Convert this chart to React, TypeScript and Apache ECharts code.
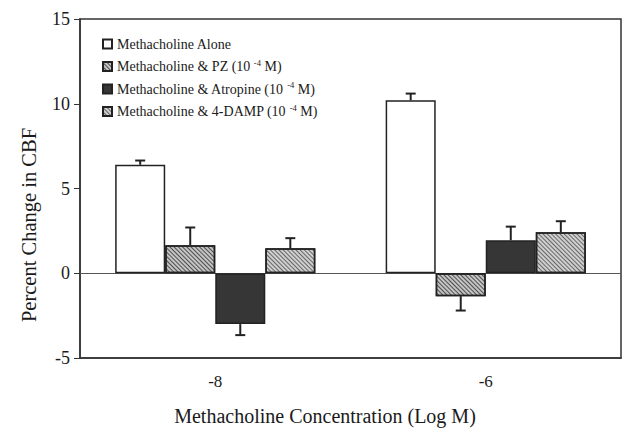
import React, { useEffect, useRef } from "react";
import * as echarts from "echarts";

const categories = ["-8", "-6"];
const seriesNames = [
  "Methacholine Alone",
  "Methacholine & PZ (10-4 M)",
  "Methacholine & Atropine (10-4 M)",
  "Methacholine & 4-DAMP (10-4 M)",
];
const alone = [6.4, 10.2];
const aloneErr = [0.25, 0.4];
const pz = [1.65, -1.35];
const pzErr = [1.05, 0.85];
const atropine = [-3.0, 1.95];
const atropineErr = [0.65, 0.8];
const damp = [1.47, 2.42];
const dampErr = [0.6, 0.65];
const yTicks = [-5, 0, 5, 10, 15];

const FONT = "'Liberation Serif', 'Times New Roman', serif";

export default function App() {
  const ref = useRef<HTMLDivElement>(null);
  useEffect(() => {
    if (!ref.current) return;
    const chart = echarts.init(ref.current, undefined, { renderer: "svg" });
    const values = [alone, pz, atropine, damp];
    const errs = [aloneErr, pzErr, atropineErr, dampErr];
    const styles: any[] = [
      { color: "#ffffff", borderColor: "#222", borderWidth: 1.5 },
      {
        color: "#c4c4c4",
        borderColor: "#222",
        borderWidth: 1.5,
        decal: {
          symbol: "rect",
          symbolSize: 1,
          color: "rgba(40,40,40,0.75)",
          dashArrayX: [1, 0],
          dashArrayY: [1, 2],
          rotation: Math.PI / 4,
        },
      },
      { color: "#363636", borderColor: "#222", borderWidth: 1.5 },
      {
        color: "#cfcfcf",
        borderColor: "#222",
        borderWidth: 1.5,
        decal: {
          symbol: "rect",
          symbolSize: 1,
          color: "rgba(60,60,60,0.7)",
          dashArrayX: [1, 0],
          dashArrayY: [1, 2],
          rotation: Math.PI / 4,
        },
      },
    ];
    const errData: any[] = [];
    values.forEach((vals, s) => {
      vals.forEach((v, c) => {
        errData.push([c, v, errs[s][c], s]);
      });
    });
    const gap = 0.26;
    const barSeries = seriesNames.map((name, i) => ({
      name,
      type: "bar",
      data: values[i],
      barGap: "0%",
      barCategoryGap: "26%",
      itemStyle: styles[i],
      z: 2,
      ...(i === 0
        ? {
            markLine: {
              silent: true,
              symbol: "none",
              label: { show: false },
              lineStyle: { color: "#555", width: 1, type: "solid" },
              data: [{ yAxis: 0 }],
              z: 1,
            },
          }
        : {}),
    }));
    chart.setOption({
      animation: false,
      backgroundColor: "#ffffff",
      textStyle: { fontFamily: FONT },
      grid: {
        left: 80,
        right: 6,
        top: 19,
        bottom: 71,
        show: true,
        borderColor: "#333",
        borderWidth: 1.5,
        backgroundColor: "transparent",
      },
      legend: {
        data: seriesNames,
        orient: "vertical",
        left: 97,
        top: 32,
        itemWidth: 9,
        itemHeight: 9,
        itemGap: 7,
        icon: "rect",
        textStyle: {
          fontFamily: FONT,
          fontSize: 14,
          color: "#1a1a1a",
          rich: {
            sup: { fontSize: 8.5, fontFamily: FONT, color: "#1a1a1a", padding: [0, 0, 8, 0] },
          },
        },
        formatter: (name: string) => name.replace("10-4", "10 {sup|-4}"),
      },
      xAxis: {
        type: "category",
        data: categories,
        axisLine: { onZero: false, lineStyle: { color: "#333", width: 1.5 } },
        axisTick: { show: false },
        axisLabel: { fontFamily: FONT, fontSize: 17, color: "#1a1a1a", margin: 15 },
      },
      yAxis: {
        type: "value",
        min: -5,
        max: 15,
        interval: 5,
        splitLine: { show: false },
        axisLine: { show: true, lineStyle: { color: "#333", width: 1.5 } },
        axisTick: { show: true, length: 6, lineStyle: { color: "#333" } },
        axisLabel: {
          fontFamily: FONT,
          fontSize: 18,
          color: "#1a1a1a",
          margin: 10,
          formatter: (v: number) => (yTicks.includes(v) ? String(v) : ""),
        },
      },
      graphic: [
        {
          type: "text",
          x: 29,
          y: 225,
          rotation: Math.PI / 2,
          style: {
            text: "Percent Change in CBF",
            fontFamily: FONT,
            fontSize: 20.5,
            fill: "#1a1a1a",
            align: "center",
            verticalAlign: "middle",
          },
        },
        {
          type: "text",
          x: 325,
          y: 416,
          style: {
            text: "Methacholine Concentration (Log M)",
            fontFamily: FONT,
            fontSize: 20,
            fill: "#1a1a1a",
            align: "center",
            verticalAlign: "middle",
          },
        },
      ],
      series: [
        ...barSeries,
        {
          type: "custom",
          name: "errors",
          data: errData,
          z: 5,
          renderItem: (params: any, api: any) => {
            const cat = api.value(0);
            const v = api.value(1);
            const e = api.value(2);
            const s = api.value(3);
            const end = v >= 0 ? v + e : v - e;
            const p0 = api.coord([cat, v]);
            const p1 = api.coord([cat, end]);
            const bw = api.size([1, 0])[0];
            const barW = (bw * (1 - gap)) / 4;
            const x = p0[0] + (s - 1.5) * barW;
            const st = { stroke: "#222", lineWidth: 2 };
            return {
              type: "group",
              children: [
                { type: "line", shape: { x1: x, y1: p0[1], x2: x, y2: p1[1] }, style: st },
                { type: "line", shape: { x1: x - 5, y1: p1[1], x2: x + 5, y2: p1[1] }, style: st },
              ],
            };
          },
        },
      ],
    });
    return () => chart.dispose();
  }, []);
  return (
    <div
      ref={ref}
      style={{ position: "fixed", left: 0, top: 0, width: 627, height: 429 }}
    />
  );
}
